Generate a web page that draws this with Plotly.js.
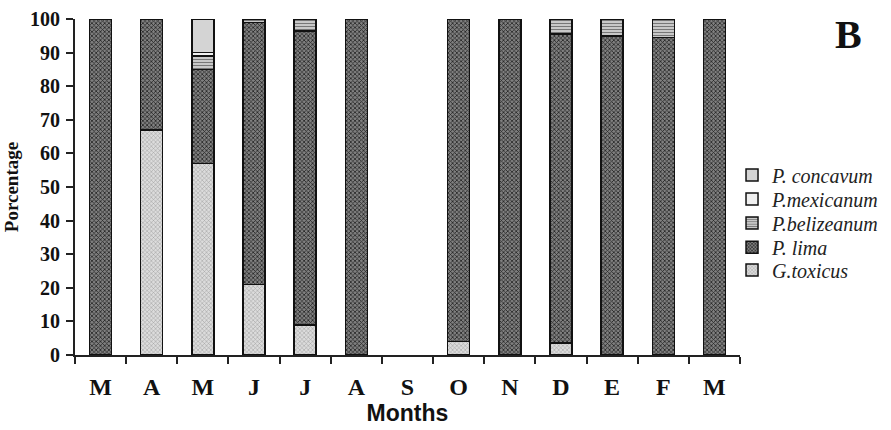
<!DOCTYPE html>
<html>
<head>
<meta charset="utf-8">
<script src="https://cdn.plot.ly/plotly-3.0.1.min.js"></script>
<style>html,body{margin:0;padding:0;background:#fff;}#chart{width:891px;height:430px;}</style>
</head>
<body>
<div id="chart"></div>
<script>
var months = ["M","A","M ","J","J ","A ","S","O","N","D","E","F","M  "];
var monthLabels = ["M","A","M","J","J","A","S","O","N","D","E","F","M"];
var gToxicus    = [0, 67, 57, 21, 9, 0, 0, 4, 0, 3.5, 0, 0, 0];
var pLima       = [100, 33, 28, 78, 87.5, 100, 0, 96, 100, 92, 95, 94.5, 100];
var pBelizeanum = [0, 0, 4, 1, 3.5, 0, 0, 0, 0, 4.5, 5, 5.5, 0];
var pMexicanum  = [0, 0, 1, 0, 0, 0, 0, 0, 0, 0, 0, 0, 0];
var pConcavum   = [0, 0, 10, 0, 0, 0, 0, 0, 0, 0, 0, 0, 0];

var seriesNames = ["G.toxicus", "P. lima", "P.belizeanum", "P.mexicanum", "P. concavum"];
var seriesValues = [gToxicus, pLima, pBelizeanum, pMexicanum, pConcavum];
var styles = [
  {color:"#d2d2d2", pattern:{shape:"x", size:3, solidity:0.3, fgcolor:"#9a9a9a", bgcolor:"#dcdcdc"}},
  {color:"#6a6a6a", pattern:{shape:"x", size:3, solidity:0.45, fgcolor:"#222222", bgcolor:"#808080"}},
  {color:"#bdbdbd", pattern:{shape:"-", size:3, solidity:0.35, fgcolor:"#777777", bgcolor:"#c8c8c8"}},
  {color:"#f0f0f0"},
  {color:"#d4d4d4"}
];
var legendIds = ["legend5", "legend4", "legend3", "legend2", "legend"];

var traces = seriesNames.map(function(n, i){
  var m = {color: styles[i].color, line:{color:"#111", width:1.5}};
  if (styles[i].pattern) m.pattern = styles[i].pattern;
  return {
    type:"bar", name:n, x:months,
    y:seriesValues[i].map(function(v){ return v === 0 ? null : v; }),
    marker:m, width:0.43, hoverinfo:"x+y+name", legend:legendIds[i]
  };
});

var serif = "Liberation Serif, Times New Roman, serif";
function leg(y){
  return {
    x:0.988, y:y, xanchor:"left", yanchor:"middle",
    font:{family:serif, size:20, color:"#222", style:"italic"},
    itemwidth:30, bgcolor:"rgba(0,0,0,0)", borderwidth:0
  };
}
var layout = {
  width:891, height:430,
  margin:{l:75, r:151, t:19, b:75, autoexpand:false},
  barmode:"stack",
  paper_bgcolor:"#fff", plot_bgcolor:"#fff",
  showlegend:true,
  legend:leg(0.536),
  legend2:leg(0.464),
  legend3:leg(0.393),
  legend4:leg(0.321),
  legend5:leg(0.253),
  xaxis:{
    type:"category", range:[-0.5, 12.5],
    tickvals:months, ticktext:monthLabels,
    tickson:"boundaries",
    ticks:"outside", ticklen:7, tickwidth:2, tickcolor:"#222",
    ticklabelstandoff:9,
    showline:true, linecolor:"#222", linewidth:2,
    showgrid:false, zeroline:false,
    tickfont:{family:serif, size:24, color:"#111", weight:"bold"},
    title:{text:"<b>Months</b>", font:{family:"Liberation Sans, Arial, sans-serif", size:23, color:"#111"}, standoff:4}
  },
  yaxis:{
    range:[0,100], dtick:10, tick0:0,
    ticks:"outside", ticklen:7, tickwidth:2, tickcolor:"#222",
    ticklabelstandoff:2,
    tickprefix:"<b>", ticksuffix:"</b>",
    showline:true, linecolor:"#222", linewidth:2,
    showgrid:false, zeroline:false,
    tickfont:{family:serif, size:20, color:"#111", weight:"bold"},
    title:{text:"<b>Porcentage</b>", font:{family:serif, size:19, color:"#111"}, standoff:6}
  },
  annotations:[{
    text:"<b>B</b>", xref:"paper", yref:"paper", x:1.163, y:0.955, xanchor:"center", yanchor:"middle",
    showarrow:false, font:{family:serif, size:40, color:"#111"}
  }]
};

Plotly.newPlot("chart", traces, layout, {displayModeBar:false, staticPlot:true});
</script>
</body>
</html>
